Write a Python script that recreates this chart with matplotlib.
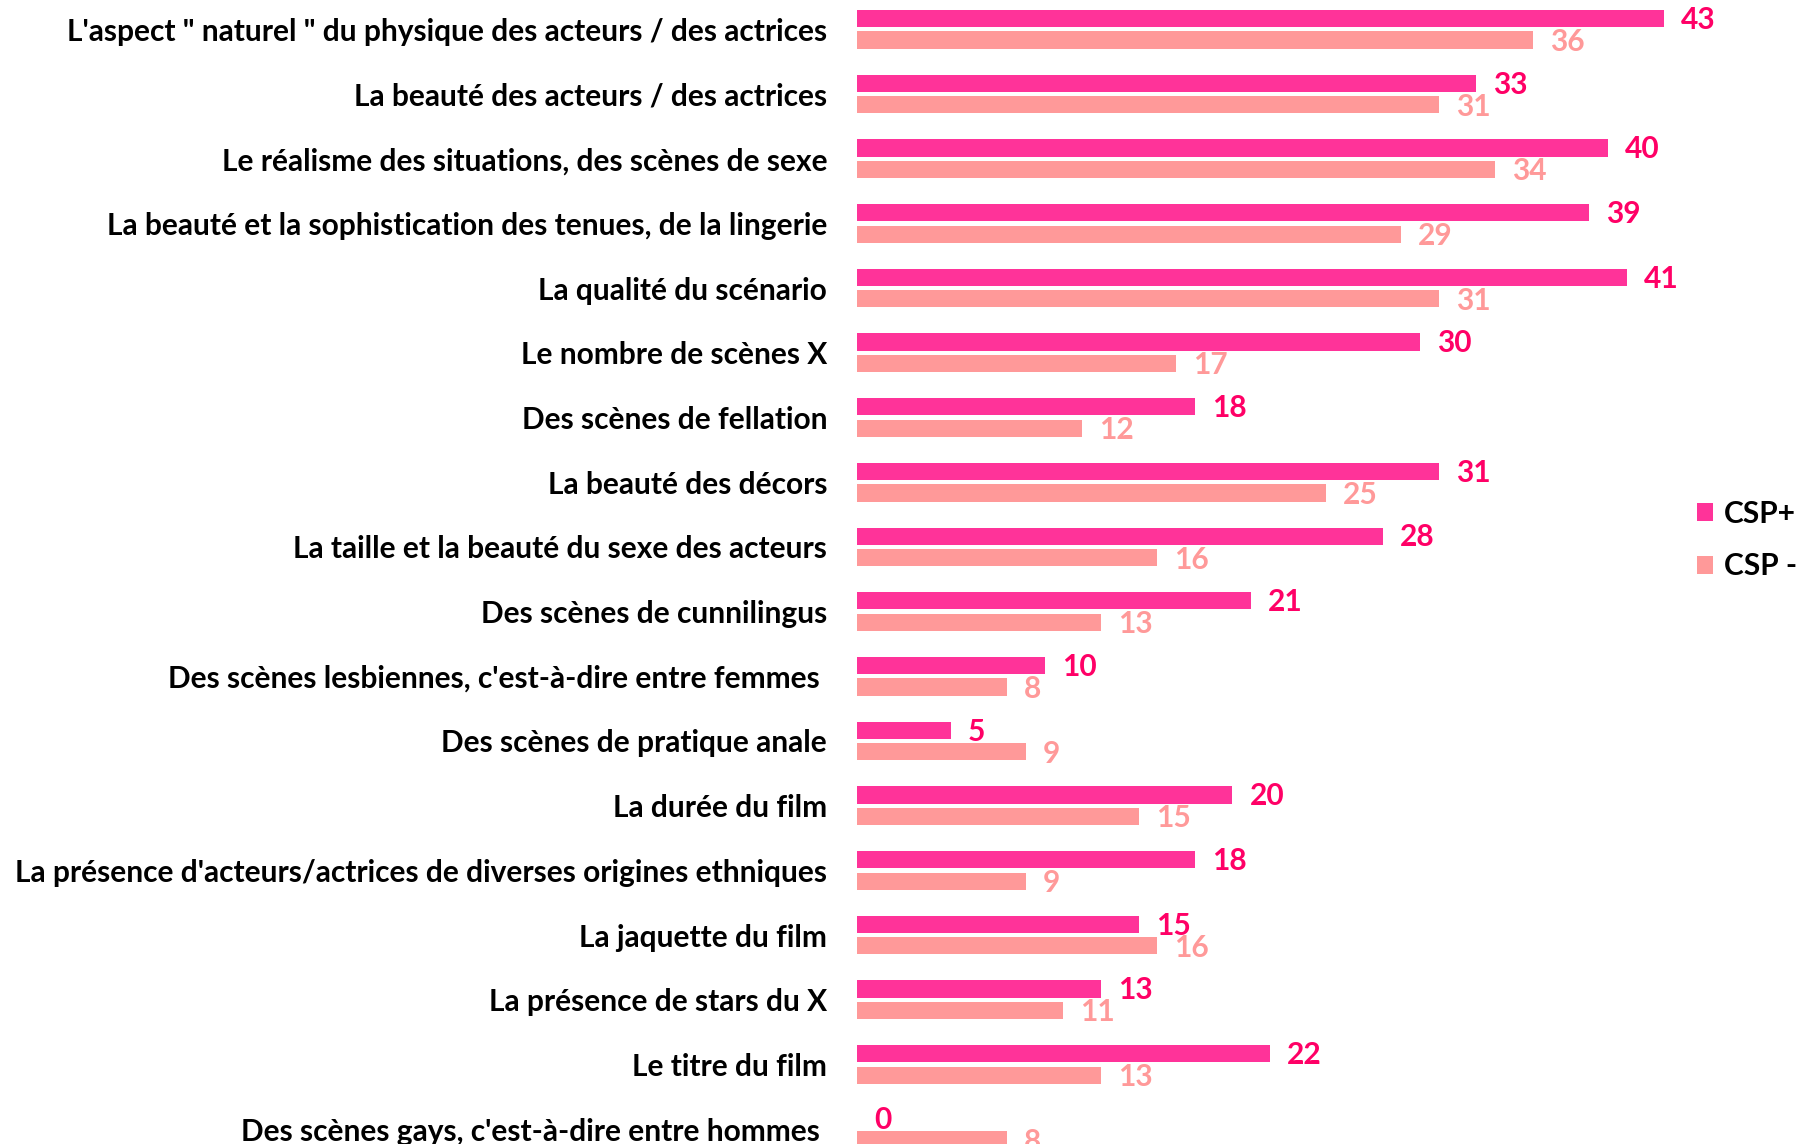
import matplotlib
matplotlib.use("Agg")
import matplotlib.pyplot as plt

categories = [
    "L'aspect \" naturel \" du physique des acteurs / des actrices",
    "La beauté des acteurs / des actrices",
    "Le réalisme des situations, des scènes de sexe",
    "La beauté et la sophistication des tenues, de la lingerie",
    "La qualité du scénario",
    "Le nombre de scènes X",
    "Des scènes de fellation",
    "La beauté des décors",
    "La taille et la beauté du sexe des acteurs",
    "Des scènes de cunnilingus",
    "Des scènes lesbiennes, c'est-à-dire entre femmes ",
    "Des scènes de pratique anale",
    "La durée du film",
    "La présence d'acteurs/actrices de diverses origines ethniques",
    "La jaquette du film",
    "La présence de stars du X",
    "Le titre du film",
    "Des scènes gays, c'est-à-dire entre hommes ",
]
csp_plus = [43, 33, 40, 39, 41, 30, 18, 31, 28, 21, 10, 5, 20, 18, 15, 13, 22, 0]
csp_minus = [36, 31, 34, 29, 31, 17, 12, 25, 16, 13, 8, 9, 15, 9, 16, 11, 13, 8]
series_names = ["CSP+", "CSP -"]

BAR_PLUS = "#FF3399"
BAR_MINUS = "#FF9999"
TXT_PLUS = "#FF0066"
TXT_MINUS = "#FF9999"

FONT = "Lato"
W, H = 1803, 1144
fig = plt.figure(figsize=(W / 100, H / 100), dpi=100)

x0 = 857            # pixel where bars start
px_per_unit = 18.77
pitch = 64.7        # pixels between groups
first_center = 29.3

ax = fig.add_axes([x0 / W, 0, (W - x0) / W, 1])
ax.set_xlim(0, (W - x0) / px_per_unit)
ax.set_ylim((H - first_center) / pitch, -first_center / pitch)

n = len(categories)
ys = list(range(n))
off = 0.166
bh = 0.265
ax.barh([y - off for y in ys], csp_plus, height=bh, color=BAR_PLUS, label=series_names[0])
ax.barh([y + off for y in ys], csp_minus, height=bh, color=BAR_MINUS, label=series_names[1])

fs = 21.5
gap = 17 / px_per_unit
for y, v in zip(ys, csp_plus):
    ax.text(v + gap, y - off + 0.02, str(v), color=TXT_PLUS, fontsize=fs,
            fontweight="bold", family=FONT, va="center", ha="left")
for y, v in zip(ys, csp_minus):
    ax.text(v + gap, y + off + 0.03, str(v), color=TXT_MINUS, fontsize=fs,
            fontweight="bold", family=FONT, va="center", ha="left")

ax.set_yticks(ys)
ax.set_yticklabels(categories, fontsize=fs, fontweight="bold", family=FONT, color="black")
ax.tick_params(axis="y", length=0, pad=21.5)
ax.set_xticks([])
for s in ax.spines.values():
    s.set_visible(False)

# legend
leg = fig.legend(loc="upper left", bbox_to_anchor=(1697 / W, 1 - 500 / H),
                 frameon=False, handlelength=0.55, handleheight=0.55,
                 handletextpad=0.35, labelspacing=0.82,
                 borderpad=0, borderaxespad=0,
                 prop={"family": FONT, "weight": "bold", "size": fs})

fig.savefig("out.png", dpi=100, facecolor="white")
